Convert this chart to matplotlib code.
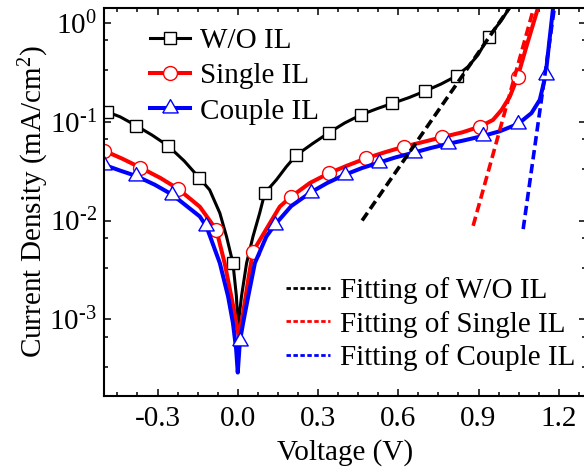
import math
import matplotlib
matplotlib.use("Agg")
import matplotlib.pyplot as plt
from matplotlib.lines import Line2D
from matplotlib.ticker import FixedLocator, MultipleLocator, FuncFormatter, NullFormatter

plt.rcParams.update({
    "font.family": ["Liberation Serif", "DejaVu Serif"],
    "mathtext.fontset": "custom",
    "mathtext.rm": "Liberation Serif",
    "mathtext.it": "Liberation Serif:italic",
    "mathtext.bf": "Liberation Serif:bold",
    "axes.unicode_minus": False,
    "font.size": 21,
})

# ---- measured J-V data (V in volts, J in mA/cm^2) ----
wo_v = [-0.50, -0.49, -0.44, -0.38, -0.32, -0.26, -0.20, -0.145, -0.105, -0.067,
        -0.042, -0.018, -0.005, 0.001, 0.014, 0.033, 0.057, 0.082, 0.101, 0.145,
        0.182, 0.219, 0.28, 0.341, 0.40, 0.460, 0.52, 0.578, 0.64, 0.699,
        0.76, 0.818, 0.861, 0.898, 0.938, 0.986, 1.017, 1.03]
wo_j = [0.128, 0.126, 0.112, 0.0912, 0.073, 0.0568, 0.040, 0.0272, 0.0204, 0.0119,
        0.00689, 0.00371, 0.00171, 0.00085, 0.00171, 0.00371, 0.00689, 0.0119, 0.0189, 0.0259,
        0.0351, 0.0458, 0.060, 0.0774, 0.097, 0.117, 0.135, 0.153, 0.175, 0.203,
        0.24, 0.290, 0.36, 0.472, 0.722, 1.06, 1.43, 1.7]
wo_marks = [1, 3, 5, 7, 11, 18, 21, 23, 25, 27, 29, 31, 34]

single_v = [-0.50, -0.43, -0.364, -0.29, -0.223, -0.142, -0.080, -0.049, -0.024, -0.005,
            0.004, 0.020, 0.039, 0.057, 0.107, 0.157, 0.198, 0.27, 0.341, 0.41,
            0.481, 0.55, 0.622, 0.69, 0.764, 0.84, 0.905, 0.954, 0.986, 1.017,
            1.046, 1.079, 1.123, 1.13]
single_j = [0.0509, 0.042, 0.0343, 0.027, 0.0209, 0.0138, 0.00805, 0.00371, 0.0017, 0.00092,
            0.00067, 0.00116, 0.0025, 0.00486, 0.0082, 0.0138, 0.0173, 0.024, 0.0301, 0.036,
            0.0427, 0.049, 0.0559, 0.062, 0.0696, 0.078, 0.0890, 0.104, 0.131, 0.179,
            0.281, 0.573, 1.43, 1.7]
single_marks = [0, 2, 4, 6, 13, 16, 18, 20, 22, 24, 26, 30]

couple_v = [-0.50, -0.44, -0.381, -0.31, -0.244, -0.142, -0.117, -0.067, -0.036, -0.018,
            -0.006, 0.0, 0.008, 0.020, 0.039, 0.064, 0.107, 0.138, 0.20, 0.272,
            0.335, 0.400, 0.465, 0.528, 0.59, 0.658, 0.72, 0.786, 0.85, 0.917,
            0.98, 1.048, 1.098, 1.129, 1.151, 1.164, 1.179, 1.185]
couple_j = [0.0366, 0.032, 0.0283, 0.023, 0.0182, 0.011, 0.0087, 0.00371, 0.0017, 0.00092,
            0.0005, 0.00029, 0.0006, 0.00092, 0.0017, 0.00371, 0.00689, 0.0090, 0.0140, 0.0192,
            0.024, 0.0290, 0.034, 0.0385, 0.0435, 0.0486, 0.054, 0.0596, 0.065, 0.0717,
            0.080, 0.0948, 0.122, 0.166, 0.296, 0.62, 1.43, 1.7]
couple_marks = [0, 2, 4, 6, 12, 17, 19, 21, 23, 25, 27, 29, 31, 34]

# ---- diode-equation fits (straight lines on the semilog plot) ----
fit_wo_v, fit_wo_j = [0.465, 1.03], [0.0100, 1.61]
fit_single_v, fit_single_j = [0.880, 1.115], [0.00884, 1.71]
fit_couple_v, fit_couple_j = [1.067, 1.19], [0.00819, 1.88]

series_labels = ["W/O IL", "Single IL", "Couple IL"]
fit_labels = ["Fitting of W/O IL", "Fitting of Single IL", "Fitting of Couple IL"]
colors = ["black", "#ff0000", "#0000ff"]

y_major = [1e-3, 1e-2, 1e-1, 1e0]
y_minor = [m * 10.0 ** k for k in (-4, -3, -2, -1) for m in (10 / 3, 20 / 3)]


def decade_label(v, pos):
    # short hyphen for the exponent sign, as in the printed axis
    k = round(math.log10(v))
    exp = ("\u2010%d" % -k) if k < 0 else "%d" % k
    return r"$\mathregular{10^{%s}}$" % exp


fig = plt.figure(figsize=(5.84, 4.72), dpi=100)
ax = fig.add_axes([104 / 584, 1 - 396 / 472, 481.5 / 584, 388 / 472])
ax.set_yscale("log")

tri = [(-1, -0.577), (1, -0.577), (0, 1.155), (-1, -0.577)]

h_wo, = ax.plot(wo_v, wo_j, color=colors[0], lw=2.2, marker="s", ms=8.5,
                mfc="white", mec=colors[0], mew=1.0, markevery=wo_marks,
                label=series_labels[0])
h_si, = ax.plot(single_v, single_j, color=colors[1], lw=2.9, marker="o", ms=10.0,
                mfc="white", mec=colors[1], mew=1.0, markevery=single_marks,
                label=series_labels[1])
h_co, = ax.plot(couple_v, couple_j, color=colors[2], lw=2.9, marker=tri, ms=12.8,
                mfc="white", mec=colors[2], mew=1.0, markevery=couple_marks,
                label=series_labels[2])

dash = (2.6, 1.3)
for fv, fj, c in ((fit_wo_v, fit_wo_j, colors[0]),
                  (fit_single_v, fit_single_j, colors[1]),
                  (fit_couple_v, fit_couple_j, colors[2])):
    ax.plot(fv, fj, color=c, lw=2.6, ls=(0, dash))

ax.set_xlim(-0.5, 1.3)
ax.set_ylim(1.68e-4, 1.41)

ax.xaxis.set_major_locator(MultipleLocator(0.3))
ax.xaxis.set_minor_locator(MultipleLocator(0.075))
ax.xaxis.set_major_formatter(FuncFormatter(lambda v, p: "%.1f" % v))
ax.yaxis.set_major_locator(FixedLocator(y_major))
ax.yaxis.set_minor_locator(FixedLocator(y_minor))
ax.yaxis.set_major_formatter(FuncFormatter(decade_label))
ax.yaxis.set_minor_formatter(NullFormatter())

ax.tick_params(which="both", direction="in", top=True, right=True, width=1.1)
ax.tick_params(which="major", length=5, labelsize=21)
ax.tick_params(axis="x", which="major", pad=7)
ax.tick_params(axis="y", which="major", pad=5)
ax.tick_params(which="minor", length=3)
for s in ax.spines.values():
    s.set_linewidth(1.5)

ax.set_xlabel("Voltage (V)", fontsize=21, labelpad=5)
ax.set_ylabel("Current Density (mA/cm$^2$)", fontsize=21)
ax.yaxis.set_label_coords(-0.11, 0.5)

leg1 = ax.legend(handles=[h_wo, h_si, h_co], loc="upper left",
                 bbox_to_anchor=(0.0955, 0.949), frameon=False, fontsize=21,
                 borderpad=0, borderaxespad=0, handlelength=1.37,
                 handletextpad=0.34, labelspacing=0.3, numpoints=1)
ax.add_artist(leg1)

# legend keys drawn with short dashes
fit_keys = [Line2D([], [], color=c, lw=2.0, ls=(0, (1.6, 0.9))) for c in colors]
ax.legend(handles=fit_keys, labels=fit_labels, loc="upper left",
          bbox_to_anchor=(0.378, 0.306), frameon=False, fontsize=21,
          borderpad=0, borderaxespad=0, handlelength=1.5,
          handletextpad=0.34, labelspacing=0.22)

fig.savefig("out.png", dpi=100)
